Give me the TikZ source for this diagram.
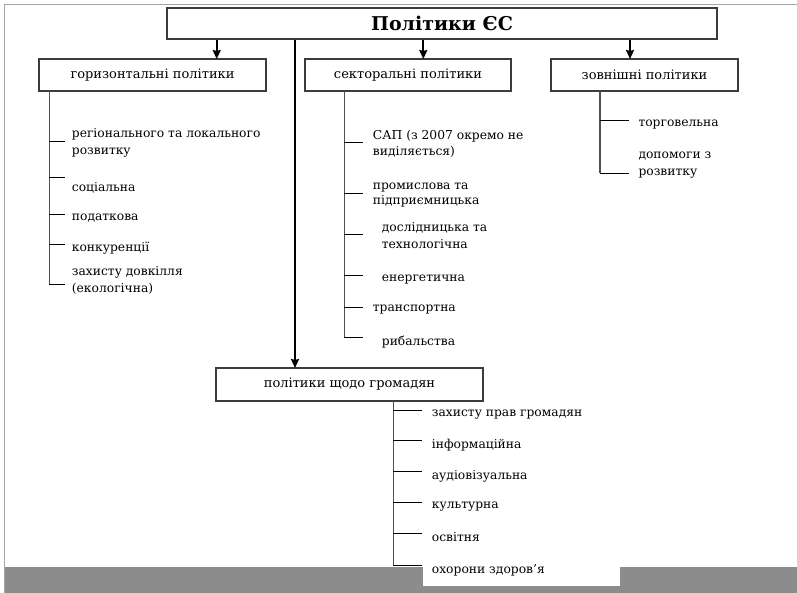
\documentclass[tikz,border=0pt]{standalone}
\usepackage{fontspec}
\setmainfont{DejaVu Serif}
\usetikzlibrary{arrows.meta}
\definecolor{boxgray}{RGB}{60,60,60}
\definecolor{trunkgray}{RGB}{80,80,80}
\definecolor{bandgray}{RGB}{140,140,140}
\definecolor{framegray}{RGB}{165,165,165}
\begin{document}
\begin{tikzpicture}[x=1pt,y=-1pt,
  box/.style={draw=boxgray, line width=1.1pt, fill=white, inner sep=0pt, font=\fontsize{13}{15}\selectfont},
  item/.style={anchor=west, inner sep=0pt, align=left, font=\fontsize{12.3}{16.5}\selectfont},
  arr/.style={line width=1.9pt, -{Stealth[length=9pt,width=8pt,inset=1pt]}},
  trunk/.style={draw=trunkgray, line width=1.1pt},
  twig/.style={draw=black, line width=1pt}]
\useasboundingbox (0,0) rectangle (797,593);
% slide frame and band
\fill[bandgray] (5,567) rectangle (797,593);
\draw[framegray, line width=1pt] (4,593) -- (4,5) -- (797,5);
\fill[white] (423,567) rectangle (620,586);

% boxes
\node[box, minimum width=550, minimum height=31, font=\fontsize{19}{22}\selectfont\bfseries] (title) at (442,23.5) {Політики ЄС};
\node[box, minimum width=227, minimum height=32] (hor) at (152.5,75) {горизонтальні політики};
\node[box, minimum width=206, minimum height=32] (sec) at (408,75) {секторальні політики};
\node[box, minimum width=187, minimum height=32] (ext) at (644.5,75) {зовнішні політики};
\node[box, minimum width=267, minimum height=33] (cit) at (349.5,384.5) {політики щодо громадян};

% arrows
\coordinate (a1) at (216.7,59);
\coordinate (a2) at (423.3,59);
\coordinate (a3) at (630,59);
\coordinate (a4) at (295,368);
\draw[arr] (title.south -| a1) -- (a1);
\draw[arr] (title.south -| a2) -- (a2);
\draw[arr] (title.south -| a3) -- (a3);
\draw[arr] (title.south -| a4) -- (a4);

% horizontal policies
\coordinate (ht) at (49.3,90.7);
\coordinate (hb) at (49.3,285);
\draw[trunk] (ht) -- (hb);
\foreach \n/\y in {1/141.7,2/177.7,3/214.3,4/245,5/285}{
  \coordinate (h\n) at (49.3,\y);
  \draw[twig] (h\n) -- ++(15.7,0);
}
\node[item] (reg) at (71.7,142.7) {регіонального та локального\\розвитку};
\node[item] (soc) at (71.7,188.3) {соціальна};
\node[item] (pod) at (71.7,218.3) {податкова};
\node[item] (kon) at (71.7,248.3) {конкуренції};
\node[item] (dov) at (71.7,280.5) {захисту довкілля\\(екологічна)};

% sectoral policies
\coordinate (st) at (344.3,90.7);
\coordinate (sb) at (344.3,337.7);
\draw[trunk] (st) -- (sb);
\foreach \n/\y in {1/142.3,2/194,3/235,4/276,5/307.3,6/337.7}{
  \coordinate (s\n) at (344.3,\y);
  \draw[twig] (s\n) -- ++(19,0);
}
\node[item] (sap) at (372.7,143.7) {САП (з 2007 окремо не\\виділяється)};
\node[item, font=\fontsize{12.3}{15}\selectfont] (prom) at (372.7,194.8) {промислова та\\підприємницька};
\node[item] (dosl) at (381.7,235.8) {дослідницька та\\технологічна};
\node[item] (ener) at (381.7,280) {енергетична};
\node[item] (tran) at (372.7,310) {транспортна};
\node[item] (rib) at (381.7,341.7) {рибальства};

% external policies
\coordinate (et) at (600,90.7);
\coordinate (eb) at (600,173.3);
\draw[trunk] (et) -- (eb);
\foreach \n/\y in {1/121,2/173.3}{
  \coordinate (e\n) at (600,\y);
  \draw[twig] (e\n) -- ++(29.3,0);
}
\node[item] (torg) at (638.3,125) {торговельна};
\node[item] (dop) at (638.3,165) {допомоги з\\розвитку};

% citizens policies
\coordinate (ct) at (393.3,400.7);
\coordinate (cb) at (393.3,565);
\draw[trunk] (ct) -- (cb);
\foreach \n/\y in {1/410,2/440.7,3/471.7,4/502.7,5/533.3,6/565}{
  \coordinate (c\n) at (393.3,\y);
  \draw[twig] (c\n) -- ++(28.4,0);
}
\node[item] (prav) at (431.7,414.3) {захисту прав громадян};
\node[item] (inf) at (431.7,445) {інформаційна};
\node[item] (aud) at (431.7,476) {аудіовізуальна};
\node[item] (kul) at (431.7,506.7) {культурна};
\node[item] (osv) at (431.7,537.3) {освітня};
\node[item] (zdr) at (431.7,570) {охорони здоров’я};
\end{tikzpicture}
\end{document}
